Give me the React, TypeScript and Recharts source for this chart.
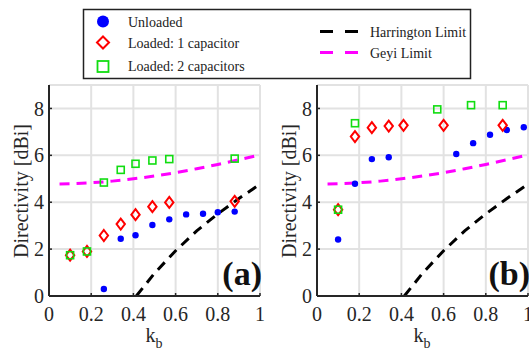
import React from "react";
import {
  CartesianGrid,
  ComposedChart,
  Line,
  Scatter,
  XAxis,
  YAxis,
} from "recharts";

// panel (a)
const kbA_unloaded = [0.26, 0.34, 0.41, 0.49, 0.57, 0.65, 0.73, 0.8, 0.88];
const dA_unloaded = [0.3, 2.44, 2.59, 3.03, 3.27, 3.48, 3.51, 3.57, 3.6];
const kbA_cap1 = [0.1, 0.18, 0.26, 0.34, 0.41, 0.49, 0.57, 0.88];
const dA_cap1 = [1.74, 1.9, 2.58, 3.07, 3.47, 3.81, 3.99, 4.04];
const kbA_cap2 = [0.1, 0.18, 0.26, 0.34, 0.41, 0.49, 0.57, 0.88];
const dA_cap2 = [1.74, 1.9, 4.84, 5.38, 5.64, 5.78, 5.84, 5.86];

// panel (b)
const kbB_unloaded = [0.1, 0.18, 0.26, 0.34, 0.66, 0.74, 0.82, 0.9, 0.98];
const dB_unloaded = [2.41, 4.79, 5.84, 5.92, 6.06, 6.52, 6.88, 7.08, 7.2];
const kbB_cap1 = [0.1, 0.18, 0.26, 0.34, 0.41, 0.6, 0.88];
const dB_cap1 = [3.68, 6.8, 7.18, 7.25, 7.28, 7.28, 7.28];
const kbB_cap2 = [0.1, 0.18, 0.57, 0.73, 0.88];
const dB_cap2 = [3.68, 7.37, 7.96, 8.14, 8.14];

// limits (same on both panels)
const harringtonKb = [0.414, 0.5, 0.6, 0.7, 0.8, 0.9, 1.0];
const harringtonD = [0, 0.97, 1.93, 2.78, 3.5, 4.16, 4.77];
const geyiKb = [0.05, 0.2, 0.3, 0.4, 0.5, 0.6, 0.7, 0.8, 0.9, 1.0];
const geyiD = [4.78, 4.83, 4.9, 5.0, 5.12, 5.26, 5.43, 5.61, 5.81, 6.02];

const xTicks = [0, 0.2, 0.4, 0.6, 0.8, 1];
const yTicks = [0, 2, 4, 6, 8];

const FONT = "'Liberation Serif', 'Times New Roman', serif";
const AXIS = "#262626";
const GRID = "#e2e2e2";
const BLUE = "#0000ff";
const RED = "#ff0000";
const GREEN = "#11dd11";
const MAGENTA = "#ff00ff";

const zip = (xs: number[], ys: number[]) => xs.map((x, i) => ({ x, y: ys[i] }));

const Dot = (p: any) => <circle cx={p.cx} cy={p.cy} r={3.2} fill={BLUE} />;
const Diamond = (p: any) => (
  <path
    d={`M${p.cx},${p.cy - 5.5}L${p.cx + 4.2},${p.cy}L${p.cx},${p.cy + 5.5}L${p.cx - 4.2},${p.cy}Z`}
    fill="none"
    stroke={RED}
    strokeWidth={2}
  />
);
const Square = (p: any) => (
  <rect x={p.cx - 3.5} y={p.cy - 3.5} width={7} height={7} fill="none" stroke={GREEN} strokeWidth={1.6} />
);

const tickStyle = { fontSize: 20, fill: AXIS, fontFamily: FONT };

function Panel({
  unloaded,
  cap1,
  cap2,
  tag,
}: {
  unloaded: { x: number; y: number }[];
  cap1: { x: number; y: number }[];
  cap2: { x: number; y: number }[];
  tag: string;
}) {
  return (
    <div style={{ position: "relative", width: 270, height: 351 }}>
      <ComposedChart width={270} height={351} margin={{ top: 85, right: 10, bottom: 0, left: 0 }}>
        <CartesianGrid stroke={GRID} strokeWidth={2} />
        <XAxis
          type="number"
          dataKey="x"
          domain={[0, 1]}
          ticks={xTicks}
          tickFormatter={(v) => String(v)}
          height={55}
          tick={tickStyle}
          tickSize={-3}
          tickMargin={14}
          tickLine={{ stroke: AXIS, strokeWidth: 1.5 }}
          axisLine={{ stroke: AXIS, strokeWidth: 2 }}
          label={(p: any) => (
            <text x={154} y={342} textAnchor="middle" fontFamily={FONT} fontSize={20} fill={AXIS}>
              k<tspan fontSize={14} dy={6}>b</tspan>
            </text>
          )}
        />
        <YAxis
          type="number"
          dataKey="y"
          domain={[0, 9]}
          ticks={yTicks}
          width={49}
          tick={tickStyle}
          tickSize={-3}
          tickMargin={8}
          tickLine={{ stroke: AXIS, strokeWidth: 1.5 }}
          axisLine={{ stroke: AXIS, strokeWidth: 2 }}
          allowDataOverflow
          label={(p: any) => (
            <text
              x={21}
              y={191}
              transform="rotate(-90 21 191)"
              textAnchor="middle"
              dominantBaseline="central"
              fontFamily={FONT}
              fontSize={20}
              fill={AXIS}
            >
              Directivity [dBi]
            </text>
          )}
        />
        <Scatter data={unloaded} dataKey="y" shape={Dot} isAnimationActive={false} />
        <Scatter data={cap1} dataKey="y" shape={Diamond} isAnimationActive={false} />
        <Scatter data={cap2} dataKey="y" shape={Square} isAnimationActive={false} />
        <Line
          data={zip(harringtonKb, harringtonD)}
          dataKey="y"
          type="linear"
          stroke="#000"
          strokeWidth={3}
          strokeDasharray="10 7"
          dot={false}
          isAnimationActive={false}
        />
        <Line
          data={zip(geyiKb, geyiD)}
          dataKey="y"
          type="monotone"
          stroke={MAGENTA}
          strokeWidth={3}
          strokeDasharray="10 7"
          dot={false}
          isAnimationActive={false}
        />
      </ComposedChart>
      <svg width={270} height={351} style={{ position: "absolute", left: 0, top: 0, pointerEvents: "none" }}>
        <text x={262} y={285} textAnchor="end" fontFamily={FONT} fontWeight="bold" fontSize={34} fill="#111">
          {tag}
        </text>
      </svg>
    </div>
  );
}

function LegendBox() {
  const t = { fontFamily: FONT, fontSize: 14, fill: "#222" };
  return (
    <svg width={529} height={85} style={{ position: "absolute", left: 0, top: 0 }}>
      <rect x={83.5} y={9.5} width={387} height={69} fill="#fff" stroke="#222" strokeWidth={1.5} />
      <circle cx={103} cy={21.5} r={6} fill={BLUE} />
      <path d="M103,36.5L109,42.5L103,48.5L97,42.5Z" fill="none" stroke={RED} strokeWidth={2} />
      <rect x={97.5} y={61} width={11} height={11} fill="none" stroke={GREEN} strokeWidth={1.8} />
      <text x={128} y={27} {...t}>Unloaded</text>
      <text x={128} y={48} {...t}>Loaded: 1 capacitor</text>
      <text x={128} y={70.5} {...t}>Loaded: 2 capacitors</text>
      <line x1={320} y1={31.5} x2={358} y2={31.5} stroke="#000" strokeWidth={3} strokeDasharray="13 12" />
      <line x1={320} y1={52.5} x2={358} y2={52.5} stroke={MAGENTA} strokeWidth={3} strokeDasharray="13 12" />
      <text x={370} y={37} {...t}>Harrington Limit</text>
      <text x={370} y={58} {...t}>Geyi Limit</text>
    </svg>
  );
}

export default function App() {
  return (
    <div
      style={{
        position: "absolute",
        left: 0,
        top: 0,
        width: 529,
        height: 351,
        overflow: "hidden",
        background: "#fff",
      }}
    >
      <div style={{ position: "absolute", left: 0, top: 0 }}>
        <Panel
          unloaded={zip(kbA_unloaded, dA_unloaded)}
          cap1={zip(kbA_cap1, dA_cap1)}
          cap2={zip(kbA_cap2, dA_cap2)}
          tag="(a)"
        />
      </div>
      <div style={{ position: "absolute", left: 268, top: 0 }}>
        <Panel
          unloaded={zip(kbB_unloaded, dB_unloaded)}
          cap1={zip(kbB_cap1, dB_cap1)}
          cap2={zip(kbB_cap2, dB_cap2)}
          tag="(b)"
        />
      </div>
      <LegendBox />
    </div>
  );
}
